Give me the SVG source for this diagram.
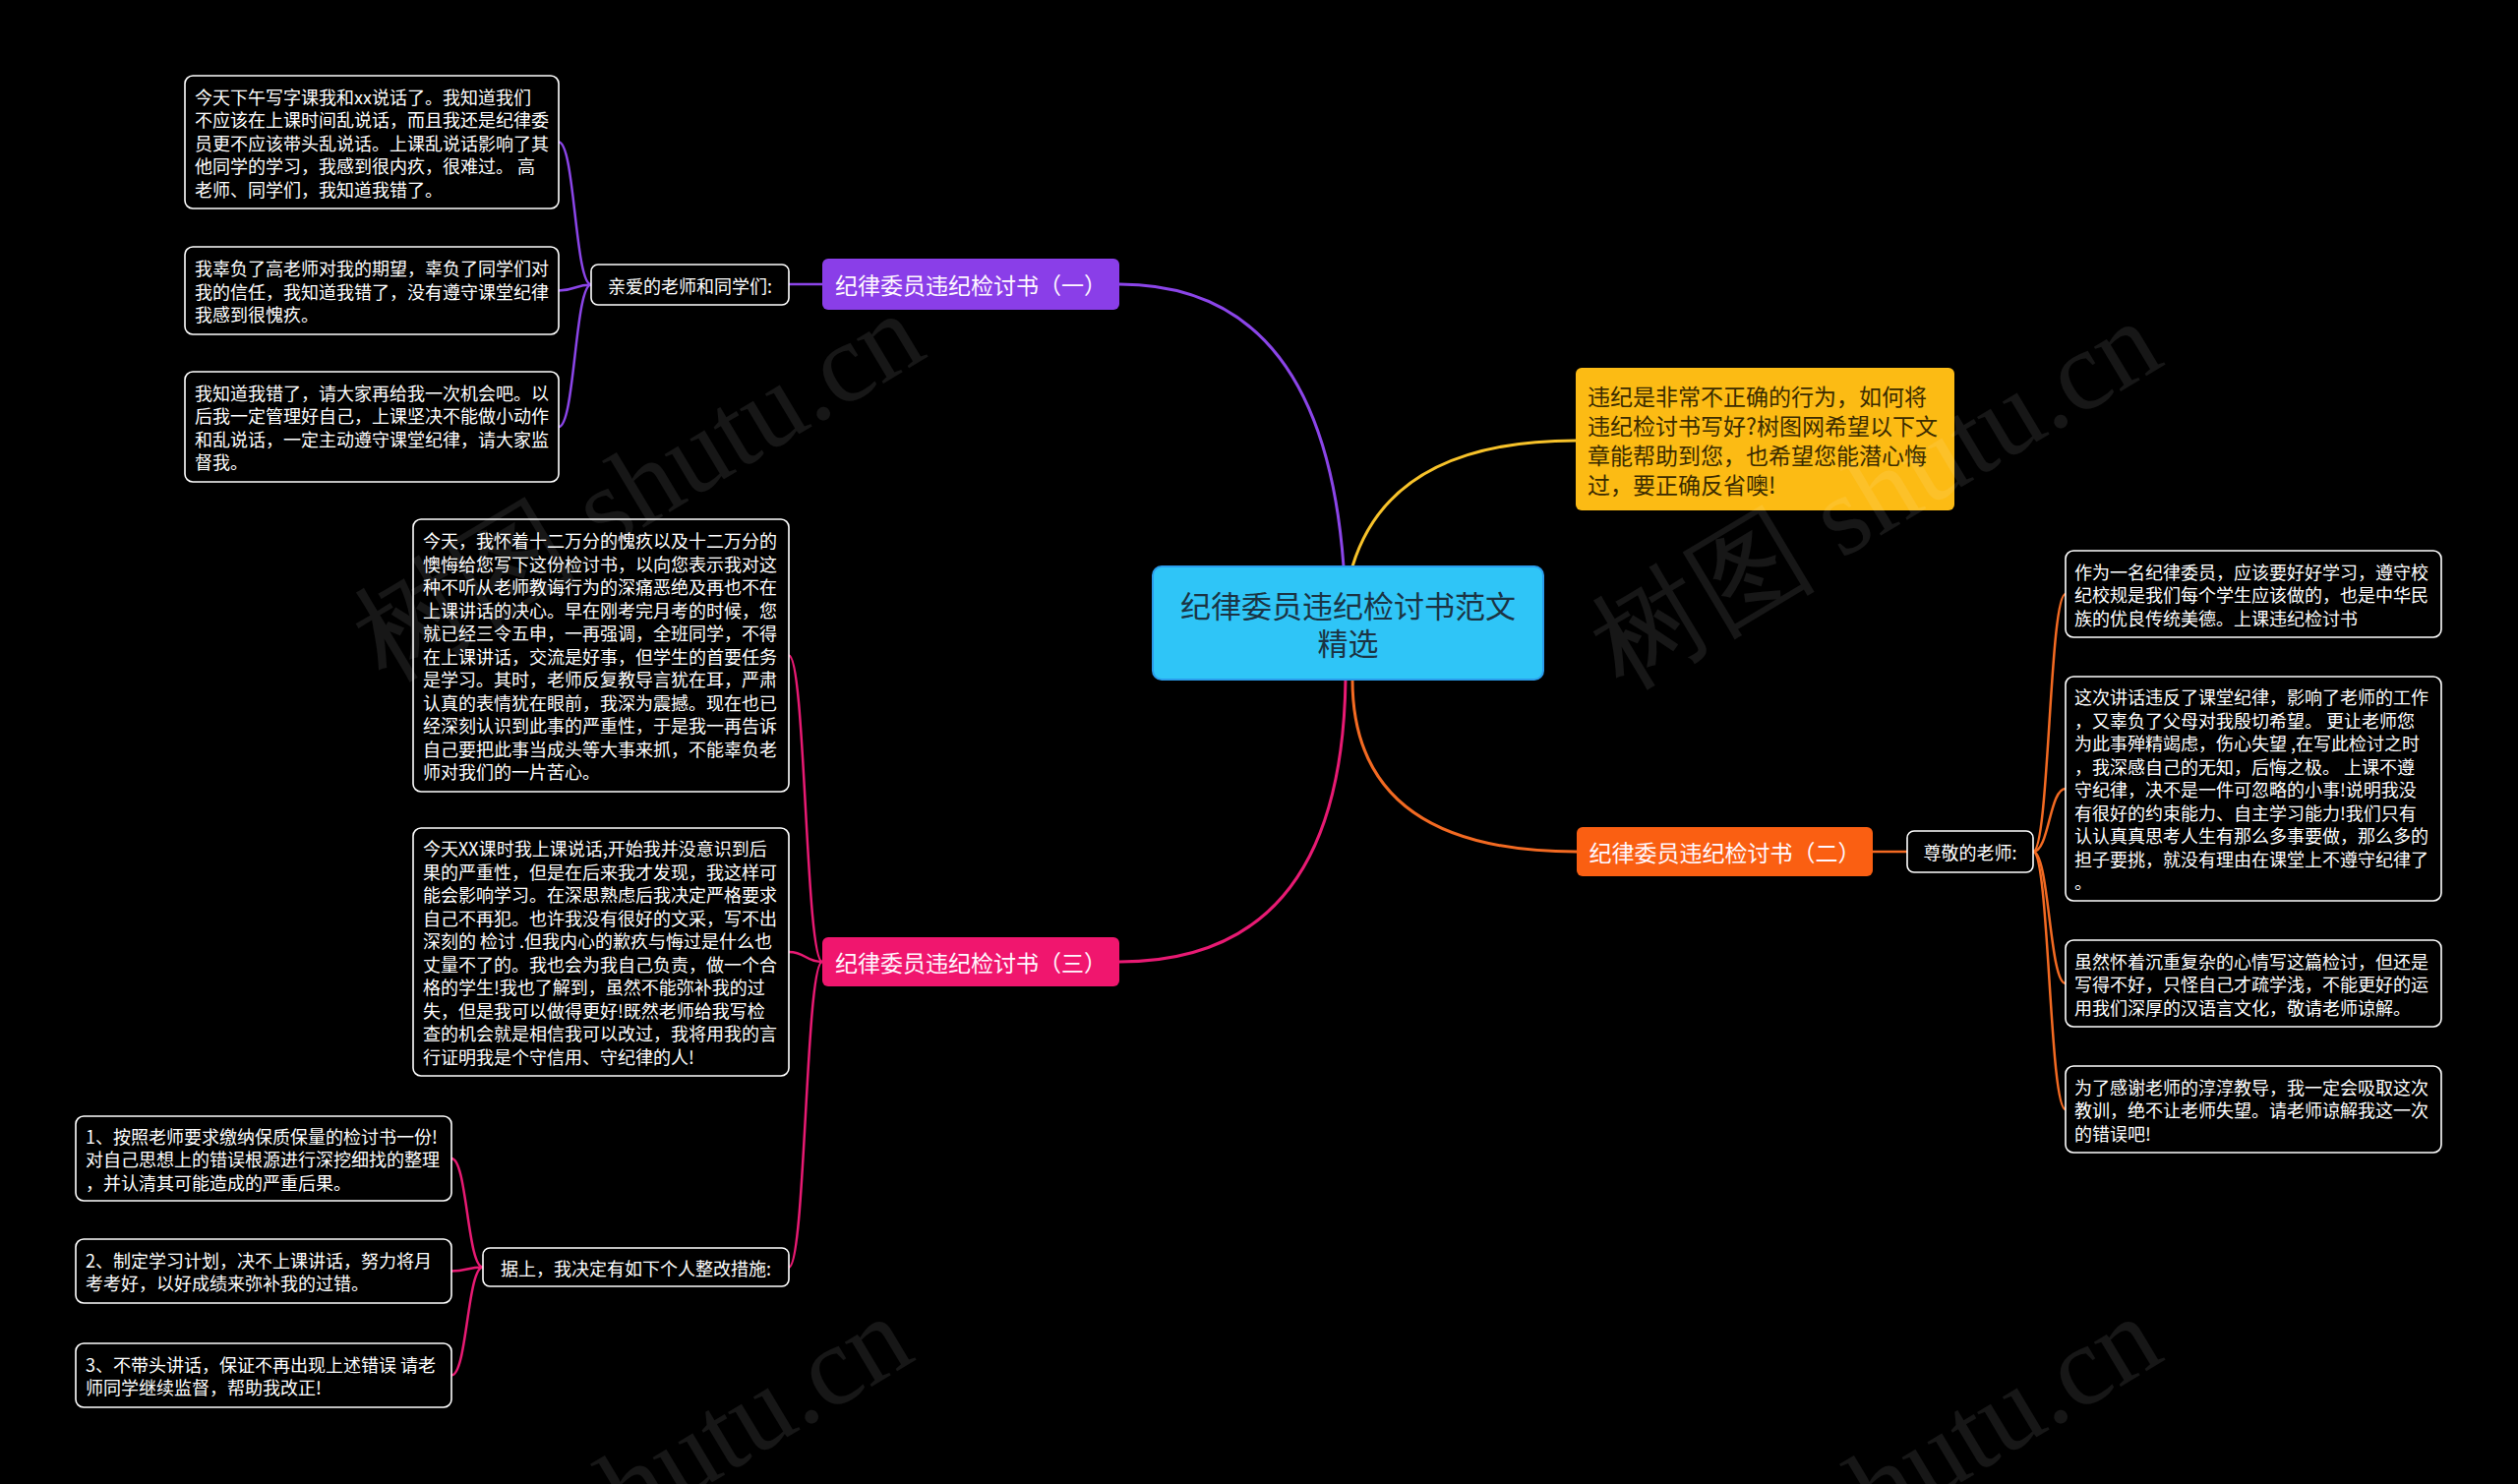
<svg xmlns="http://www.w3.org/2000/svg" width="2560" height="1509" viewBox="0 0 2560 1509">
<style>
.t{font-family:"Noto Sans CJK SC","Noto Sans",sans-serif;dominant-baseline:central}
.body{font-size:18px;fill:#ffffff}
.lbl{font-size:18px;fill:#ffffff;text-anchor:middle}
.main{font-size:23px;fill:#fff8ff;text-anchor:middle}
.wbox{fill:#000;stroke:#ffffff;stroke-width:1.6}
.c{fill:none;stroke-width:3;stroke-linecap:round}
.cs{fill:none;stroke-width:2.5;stroke-linecap:round}
.wm{font-family:"Liberation Serif",serif;font-size:115px;fill:#ffffff;fill-opacity:0.09}
</style>
<rect x="0" y="0" width="2560" height="1509" fill="#000"/>

<g id="connectors">
  <path class="c" stroke="#8b45e8" d="M1366 576 Q1345 289 1138 289"/>
  <path class="cs" stroke="#8b45e8" d="M836 289 L802 289"/>
  <path class="cs" stroke="#8b45e8" d="M601 289.5 C584.5 289.5 584.5 144.5 568 144.5"/>
  <path class="cs" stroke="#8b45e8" d="M601 289.5 C584.5 289.5 584.5 295.5 568 295.5"/>
  <path class="cs" stroke="#8b45e8" d="M601 289.5 C584.5 289.5 584.5 434 568 434"/>
  <path class="c" stroke="#f7c22a" d="M1375 576 Q1414 448 1602 448"/>
  <path class="c" stroke="#f36a22" d="M1375 691 Q1375 866 1603 866"/>
  <path class="cs" stroke="#f36a22" d="M1904 866 L1939 866"/>
  <path class="cs" stroke="#f36a22" d="M2067 866 C2083.5 866 2083.5 604 2100 604"/>
  <path class="cs" stroke="#f36a22" d="M2067 866 C2083.5 866 2083.5 802 2100 802"/>
  <path class="cs" stroke="#f36a22" d="M2067 866 C2083.5 866 2083.5 1000 2100 1000"/>
  <path class="cs" stroke="#f36a22" d="M2067 866 C2083.5 866 2083.5 1128 2100 1128"/>
  <path class="c" stroke="#e81a73" d="M1368 691 Q1364 978 1138 978"/>
  <path class="cs" stroke="#e81a73" d="M836 978 C819 978 819 666.5 802 666.5"/>
  <path class="cs" stroke="#e81a73" d="M836 978 C819 978 819 968 802 968"/>
  <path class="cs" stroke="#e81a73" d="M836 978 C819 978 819 1288.5 802 1288.5"/>
  <path class="cs" stroke="#e81a73" d="M491 1288.5 C475 1288.5 475 1178 459 1178"/>
  <path class="cs" stroke="#e81a73" d="M491 1288.5 C475 1288.5 475 1292.5 459 1292.5"/>
  <path class="cs" stroke="#e81a73" d="M491 1288.5 C475 1288.5 475 1398.5 459 1398.5"/>
</g>

<g id="root">
  <rect x="1172" y="576" width="397" height="115" rx="9" fill="#2fc5f7" stroke="#2a9cec" stroke-width="2"/>
  <text class="t" x="1370.5" y="614" text-anchor="middle" font-size="31" fill="#1b3444">纪律委员违纪检讨书范文</text>
  <text class="t" x="1370.5" y="652.5" text-anchor="middle" font-size="31" fill="#1b3444">精选</text>
</g>

<g id="b1">
  <rect x="836" y="263" width="302" height="52" rx="6" fill="#8a3ee8"/>
  <text class="t main" x="987" y="289">纪律委员违纪检讨书（一）</text>
</g>
<g id="b1-sub">
  <rect class="wbox" x="601" y="269" width="201" height="41" rx="7"/>
  <text class="t lbl" x="701.5" y="289.5">亲爱的老师和同学们:</text>
</g>
<g id="b1-1">
  <rect class="wbox" x="188" y="77" width="380" height="135" rx="8"/>
  <text class="t body" x="198" y="97.5">今天下午写字课我和xx说话了。我知道我们</text>
  <text class="t body" x="198" y="121">不应该在上课时间乱说话，而且我还是纪律委</text>
  <text class="t body" x="198" y="144.5">员更不应该带头乱说话。上课乱说话影响了其</text>
  <text class="t body" x="198" y="168">他同学的学习，我感到很内疚，很难过。 高</text>
  <text class="t body" x="198" y="191.5">老师、同学们，我知道我错了。</text>
</g>
<g id="b1-2">
  <rect class="wbox" x="188" y="251" width="380" height="89" rx="8"/>
  <text class="t body" x="198" y="272">我辜负了高老师对我的期望，辜负了同学们对</text>
  <text class="t body" x="198" y="295.5">我的信任，我知道我错了，没有遵守课堂纪律</text>
  <text class="t body" x="198" y="319">我感到很愧疚。</text>
</g>
<g id="b1-3">
  <rect class="wbox" x="188" y="378" width="380" height="112" rx="8"/>
  <text class="t body" x="198" y="398.75">我知道我错了，请大家再给我一次机会吧。以</text>
  <text class="t body" x="198" y="422.25">后我一定管理好自己，上课坚决不能做小动作</text>
  <text class="t body" x="198" y="445.75">和乱说话，一定主动遵守课堂纪律，请大家监</text>
  <text class="t body" x="198" y="469.25">督我。</text>
</g>

<g id="intro">
  <rect x="1602" y="374" width="385" height="145" rx="6" fill="#fcbb14"/>
  <text class="t" font-size="23" fill="#3a2b00" x="1614" y="401.5">违纪是非常不正确的行为，如何将</text>
  <text class="t" font-size="23" fill="#3a2b00" x="1614" y="431.5">违纪检讨书写好?树图网希望以下文</text>
  <text class="t" font-size="23" fill="#3a2b00" x="1614" y="461.5">章能帮助到您，也希望您能潜心悔</text>
  <text class="t" font-size="23" fill="#3a2b00" x="1614" y="491.5">过，要正确反省噢!</text>
</g>

<g id="b2">
  <rect x="1603" y="841" width="301" height="50" rx="6" fill="#fa5f12"/>
  <text class="t main" x="1753.5" y="866">纪律委员违纪检讨书（二）</text>
</g>
<g id="b2-sub">
  <rect class="wbox" x="1939" y="845" width="128" height="42" rx="7"/>
  <text class="t lbl" x="2003" y="866">尊敬的老师:</text>
</g>
<g id="b2-1">
  <rect class="wbox" x="2100" y="560" width="382" height="88" rx="8"/>
  <text class="t body" x="2109" y="580.5">作为一名纪律委员，应该要好好学习，遵守校</text>
  <text class="t body" x="2109" y="604">纪校规是我们每个学生应该做的，也是中华民</text>
  <text class="t body" x="2109" y="627.5">族的优良传统美德。上课违纪检讨书</text>
</g>
<g id="b2-2">
  <rect class="wbox" x="2100" y="688" width="382" height="228" rx="8"/>
  <text class="t body" x="2109" y="708">这次讲话违反了课堂纪律，影响了老师的工作</text>
  <text class="t body" x="2109" y="731.5">，又辜负了父母对我殷切希望。 更让老师您</text>
  <text class="t body" x="2109" y="755">为此事殚精竭虑，伤心失望 ,在写此检讨之时</text>
  <text class="t body" x="2109" y="778.5">，我深感自己的无知，后悔之极。 上课不遵</text>
  <text class="t body" x="2109" y="802">守纪律，决不是一件可忽略的小事!说明我没</text>
  <text class="t body" x="2109" y="825.5">有很好的约束能力、自主学习能力!我们只有</text>
  <text class="t body" x="2109" y="849">认认真真思考人生有那么多事要做，那么多的</text>
  <text class="t body" x="2109" y="872.5">担子要挑，就没有理由在课堂上不遵守纪律了</text>
  <text class="t body" x="2109" y="896">。</text>
</g>
<g id="b2-3">
  <rect class="wbox" x="2100" y="956" width="382" height="88" rx="8"/>
  <text class="t body" x="2109" y="976.5">虽然怀着沉重复杂的心情写这篇检讨，但还是</text>
  <text class="t body" x="2109" y="1000">写得不好，只怪自己才疏学浅，不能更好的运</text>
  <text class="t body" x="2109" y="1023.5">用我们深厚的汉语言文化，敬请老师谅解。</text>
</g>
<g id="b2-4">
  <rect class="wbox" x="2100" y="1084" width="382" height="88" rx="8"/>
  <text class="t body" x="2109" y="1104.5">为了感谢老师的淳淳教导，我一定会吸取这次</text>
  <text class="t body" x="2109" y="1128">教训，绝不让老师失望。请老师谅解我这一次</text>
  <text class="t body" x="2109" y="1151.5">的错误吧!</text>
</g>

<g id="b3">
  <rect x="836" y="953" width="302" height="50" rx="6" fill="#f0166e"/>
  <text class="t main" x="987" y="978">纪律委员违纪检讨书（三）</text>
</g>
<g id="b3-1">
  <rect class="wbox" x="420" y="528" width="382" height="277" rx="8"/>
  <text class="t body" x="430" y="549">今天，我怀着十二万分的愧疚以及十二万分的</text>
  <text class="t body" x="430" y="572.5">懊悔给您写下这份检讨书，以向您表示我对这</text>
  <text class="t body" x="430" y="596">种不听从老师教诲行为的深痛恶绝及再也不在</text>
  <text class="t body" x="430" y="619.5">上课讲话的决心。早在刚考完月考的时候，您</text>
  <text class="t body" x="430" y="643">就已经三令五申，一再强调，全班同学，不得</text>
  <text class="t body" x="430" y="666.5">在上课讲话，交流是好事，但学生的首要任务</text>
  <text class="t body" x="430" y="690">是学习。其时，老师反复教导言犹在耳，严肃</text>
  <text class="t body" x="430" y="713.5">认真的表情犹在眼前，我深为震撼。现在也已</text>
  <text class="t body" x="430" y="737">经深刻认识到此事的严重性，于是我一再告诉</text>
  <text class="t body" x="430" y="760.5">自己要把此事当成头等大事来抓，不能辜负老</text>
  <text class="t body" x="430" y="784">师对我们的一片苦心。</text>
</g>
<g id="b3-2">
  <rect class="wbox" x="420" y="842" width="382" height="252" rx="8"/>
  <text class="t body" x="430" y="862.25">今天XX课时我上课说话,开始我并没意识到后</text>
  <text class="t body" x="430" y="885.75">果的严重性，但是在后来我才发现，我这样可</text>
  <text class="t body" x="430" y="909.25">能会影响学习。在深思熟虑后我决定严格要求</text>
  <text class="t body" x="430" y="932.75">自己不再犯。也许我没有很好的文采，写不出</text>
  <text class="t body" x="430" y="956.25">深刻的 检讨 .但我内心的歉疚与悔过是什么也</text>
  <text class="t body" x="430" y="979.75">丈量不了的。我也会为我自己负责，做一个合</text>
  <text class="t body" x="430" y="1003.25">格的学生!我也了解到，虽然不能弥补我的过</text>
  <text class="t body" x="430" y="1026.75">失，但是我可以做得更好!既然老师给我写检</text>
  <text class="t body" x="430" y="1050.25">查的机会就是相信我可以改过，我将用我的言</text>
  <text class="t body" x="430" y="1073.75">行证明我是个守信用、守纪律的人!</text>
</g>
<g id="b3-sub">
  <rect class="wbox" x="491" y="1269" width="311" height="39" rx="7"/>
  <text class="t lbl" x="646.5" y="1288.5">据上，我决定有如下个人整改措施:</text>
</g>
<g id="b3-s1">
  <rect class="wbox" x="77" y="1135" width="382" height="86" rx="8"/>
  <text class="t body" x="87" y="1154.5">1、按照老师要求缴纳保质保量的检讨书一份!</text>
  <text class="t body" x="87" y="1178">对自己思想上的错误根源进行深挖细找的整理</text>
  <text class="t body" x="87" y="1201.5">，并认清其可能造成的严重后果。</text>
</g>
<g id="b3-s2">
  <rect class="wbox" x="77" y="1260" width="382" height="65" rx="8"/>
  <text class="t body" x="87" y="1280.75">2、制定学习计划，决不上课讲话，努力将月</text>
  <text class="t body" x="87" y="1304.25">考考好，以好成绩来弥补我的过错。</text>
</g>
<g id="b3-s3">
  <rect class="wbox" x="77" y="1366" width="382" height="65" rx="8"/>
  <text class="t body" x="87" y="1386.75">3、不带头讲话，保证不再出现上述错误 请老</text>
  <text class="t body" x="87" y="1410.25">师同学继续监督，帮助我改正!</text>
</g>

<g id="watermark">
  <text class="wm" transform="translate(392 694) rotate(-31)">树图 shutu.cn</text>
  <text class="wm" transform="translate(1650 702) rotate(-31)">树图 shutu.cn</text>
  <text class="wm" transform="translate(380 1714) rotate(-31)">树图 shutu.cn</text>
  <text class="wm" transform="translate(1650 1714) rotate(-31)">树图 shutu.cn</text>
</g>
</svg>
